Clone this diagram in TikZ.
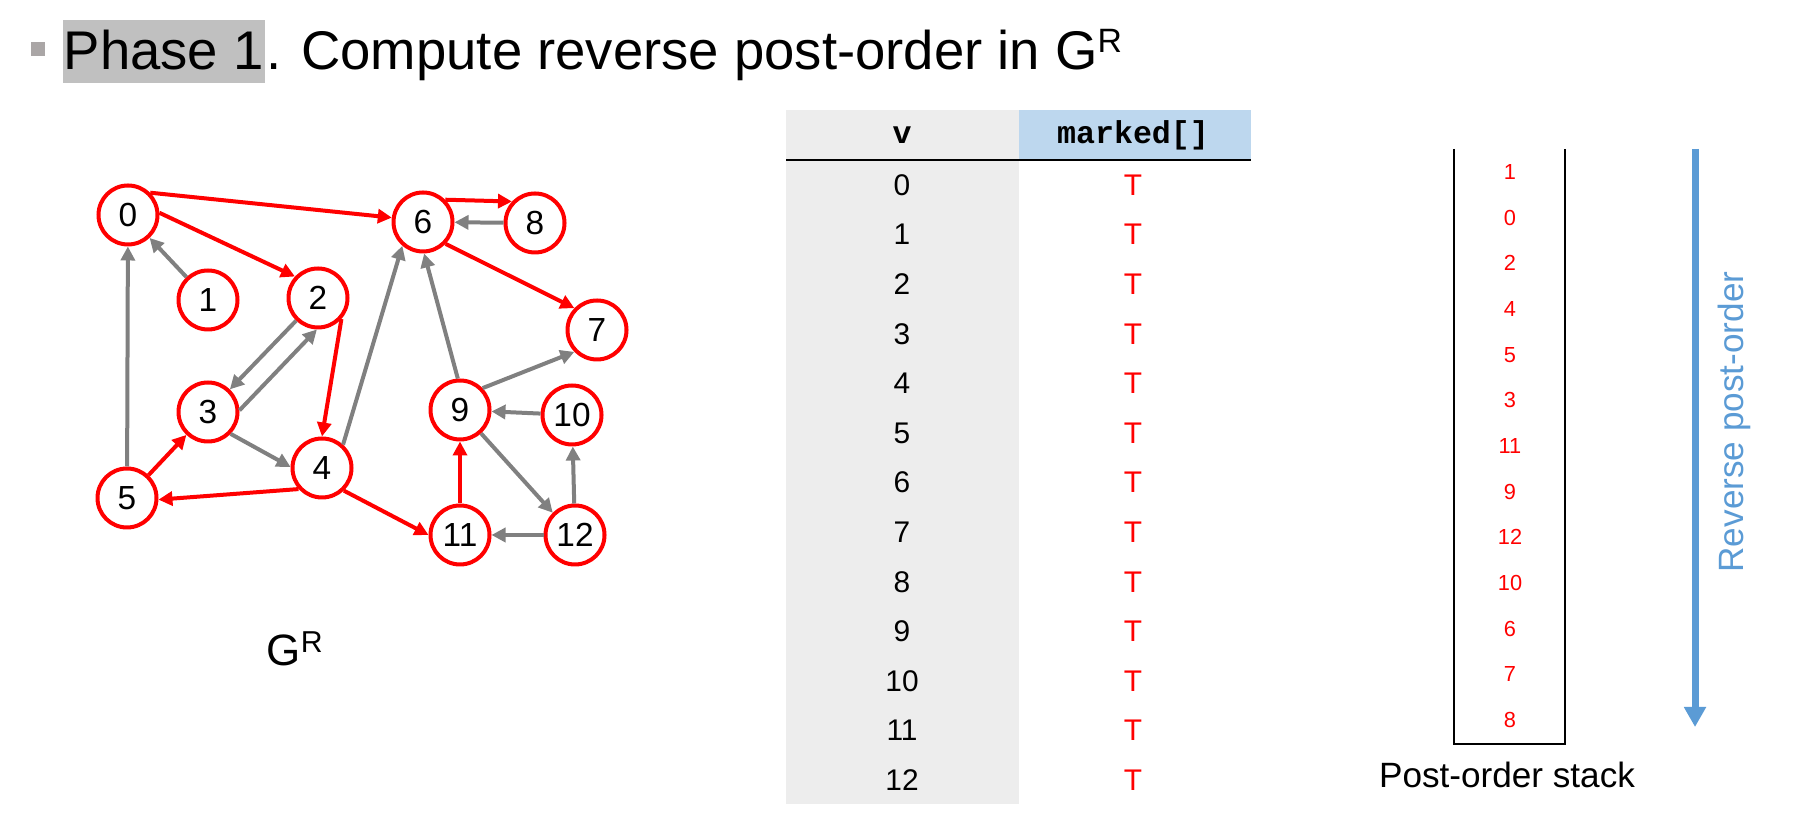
\documentclass[tikz,border=0pt]{standalone}
\usepackage{fontspec}
\setmainfont{Liberation Sans}
\setmonofont{Liberation Mono}
\usetikzlibrary{arrows.meta}
\definecolor{phasegray}{RGB}{192,192,192}
\definecolor{bulletgray}{RGB}{170,166,166}
\definecolor{colgray}{RGB}{237,237,237}
\definecolor{headblue}{RGB}{189,215,238}
\definecolor{arrowblue}{RGB}{91,155,213}
\definecolor{edgegray}{RGB}{128,128,128}
\tikzset{
  vertex/.style={circle, draw=red, line width=0.04cm, fill=white, minimum size=0.59cm, inner sep=0pt, font=\fontsize{9.5}{11}\selectfont},
  tree/.style={draw=red, line width=0.04cm, -{Triangle[length=0.14cm,width=0.14cm]}},
  back/.style={draw=edgegray, line width=0.04cm, -{Triangle[length=0.14cm,width=0.14cm]}},
  cell/.style={inner sep=0pt, font=\fontsize{8.5}{10}\selectfont},
  stackitem/.style={inner sep=0pt, text=red, font=\fontsize{6.2}{7}\selectfont}
}
\begin{document}
\begin{tikzpicture}
\useasboundingbox (0,0) rectangle (18.11,8.26);

\coordinate (B) at (0.62,7.56);
\coordinate (C1) at (7.86,7.16);
\coordinate (C2) at (10.19,0.22);
\coordinate (C3) at (12.51,6.66);
\coordinate (SL) at (14.54,6.77);
\coordinate (SR) at (15.65,6.77);
\coordinate (RT) at (16.95,6.77);
\coordinate (RB) at (16.95,0.99);

\fill[bulletgray] (0.31,7.84) rectangle (0.45,7.70);
\node[anchor=base west, fill=phasegray, inner xsep=0.01cm, inner ysep=0pt, text height=0.50cm, text depth=0.13cm, font=\fontsize{15.5}{18}\selectfont] (PH) at (B) {Phase 1};
\node[anchor=base west, inner sep=0pt, font=\fontsize{15.5}{18}\selectfont] (TL) at (PH.base east) {. Compute reverse post-order in G\raisebox{0.17cm}{\fontsize{9.6}{11}\selectfont R}};

\node[vertex] (N0) at (1.28,6.11) {0};
\node[vertex] (N1) at (2.08,5.26) {1};
\node[vertex] (N2) at (3.18,5.28) {2};
\node[vertex] (N3) at (2.08,4.14) {3};
\node[vertex] (N4) at (3.22,3.58) {4};
\node[vertex] (N5) at (1.27,3.28) {5};
\node[vertex] (N6) at (4.23,6.04) {6};
\node[vertex] (N7) at (5.97,4.96) {7};
\node[vertex] (N8) at (5.35,6.03) {8};
\node[vertex] (N9) at (4.60,4.16) {9};
\node[vertex] (N10) at (5.72,4.11) {10};
\node[vertex] (N11) at (4.60,2.91) {11};
\node[vertex] (N12) at (5.75,2.91) {12};

\draw[tree] (N0.4) -- (N2.137);
\draw[tree] (N0.45) -- (N6.172);
\draw[tree] (N2.318) -- (N4.90);
\draw[tree] (N4.222) -- (N5.357);
\draw[tree] (N5) -- (N3);
\draw[tree] (N4.314) -- (N11.180);
\draw[tree] (N11) -- (N9);
\draw[tree] (N6.45) -- (N8.137);
\draw[tree] (N6.316) -- (N7.136);

\draw[back] (N1) -- (N0);
\draw[back] (N5) -- (N0);
\draw[back] (N2) -- (N3);
\draw[back] (N3.3) -- (N2.268);
\draw[back] (N3.316) -- (N4.178);
\draw[back] (N4.48) -- (N6.229);
\draw[back] (N9.94) -- (N6.272);
\draw[back] (N8) -- (N6);
\draw[back] (N9.44) -- (N7.224);
\draw[back] (N10) -- (N9);
\draw[back] (N9.312) -- (N12.135);
\draw[back] (N12) -- (N10);
\draw[back] (N12) -- (N11);

\node[anchor=base west, inner sep=0pt, font=\fontsize{12.5}{15}\selectfont] (GR) at (2.66,1.60) {G\raisebox{0.13cm}{\fontsize{8.6}{10}\selectfont R}};

\fill[colgray] (C1) rectangle (C2);
\fill[headblue] (C2 |- C1) rectangle (C3);
\draw[line width=0.025cm] (C1 |- C3) -- (C3);
\node[font=\ttfamily\bfseries\fontsize{9}{10}\selectfont] (HV) at (9.02,6.91) {v};
\node[font=\ttfamily\bfseries\fontsize{9}{10}\selectfont] (HM) at (11.33,6.91) {marked[]};
\foreach \v in {0,...,12} {
  \node[cell] (V\v) at (9.02,6.41-0.496*\v) {\v};
  \node[cell, text=red] (T\v) at (11.33,6.41-0.496*\v) {T};
}

\draw[line width=0.02cm] (SL) -- (SL |- 0,0.82) -- (SR |- 0,0.82) -- (SR);
\foreach \s [count=\k from 0] in {1,0,2,4,5,3,11,9,12,10,6,7,8}
  \node[stackitem] (S\s) at (15.10,6.54-0.4567*\k) {\s};
\node[font=\fontsize{10}{12}\selectfont] (PS) at (15.07,0.51) {Post-order stack};

\draw[arrowblue, line width=0.07cm, -{Triangle[length=0.2cm,width=0.21cm]}] (RT) -- (RB);
\node[rotate=90, text=arrowblue, font=\fontsize{10}{12}\selectfont] (RP) at (17.34,4.04) {Reverse post-order};
\end{tikzpicture}
\end{document}
